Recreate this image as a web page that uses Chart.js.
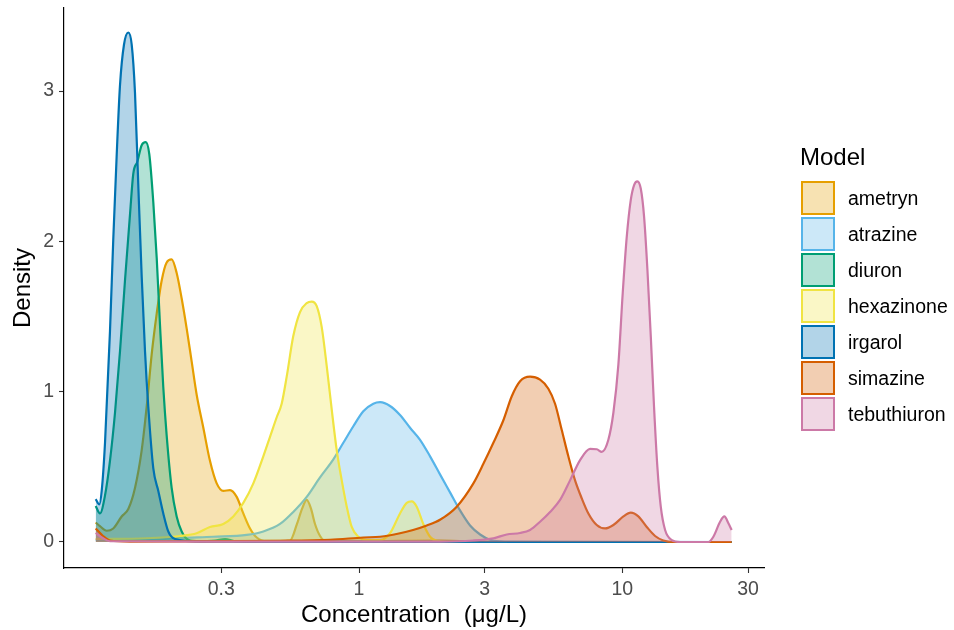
<!DOCTYPE html>
<html>
<head>
<meta charset="utf-8">
<script src="https://cdn.jsdelivr.net/npm/chart.js@4.4.1/dist/chart.umd.min.js"></script>
<style>
  body { margin: 0; background: #fff; font-family: "Liberation Sans", Arial, sans-serif; }
  #wrap { position: relative; width: 954px; height: 630px; }
  #chart { position: absolute; left: 0; top: 0; }
  .lg-title { position: absolute; left: 800px; top: 143px; font-size: 24px; line-height: 28px; color: #000; }
  .lg-box { position: absolute; left: 801px; width: 30px; height: 30px; border: 2px solid; }
  .lg-text { position: absolute; left: 848px; font-size: 19.5px; line-height: 24px; color: #000; }
</style>
</head>
<body>
<div id="wrap">
  <canvas id="chart" width="954" height="630"></canvas>
  <div id="legend"></div>
</div>
<script>
// Models and colours
const models = ["ametryn", "atrazine", "diuron", "hexazinone", "irgarol", "simazine", "tebuthiuron"];
const lineColors = ["#E69F00", "#56B4E9", "#009E73", "#F0E442", "#0072B2", "#D55E00", "#CC79A7"];
const fillColors = [
  "rgba(230, 159, 0, 0.3)",
  "rgba(86, 180, 233, 0.3)",
  "rgba(0, 158, 115, 0.3)",
  "rgba(240, 228, 66, 0.3)",
  "rgba(0, 114, 178, 0.3)",
  "rgba(213, 94, 0, 0.3)",
  "rgba(204, 121, 167, 0.3)",
];

// Axis ticks
const xTicks = [0.3, 1, 3, 10, 30];
const yTicks = [0, 1, 2, 3];

// Density curves (concentration in ug/L, density)
const ametrynX = [0.100, 0.1038, 0.1101, 0.1166, 0.1255, 0.1330, 0.1410, 0.1495, 0.1562, 0.1632, 0.1705, 0.1781, 0.1860, 0.1943, 0.2030, 0.2121, 0.2216, 0.2315, 0.2418, 0.2563, 0.2716, 0.2881, 0.3053, 0.3236, 0.3431, 0.3636, 0.3855, 0.4088, 0.4460, 0.5468, 0.5813, 0.6075, 0.6329, 0.6574, 0.6805, 0.7112, 0.7494, 1.009, 2.0, 3.431, 26.0];
const ametrynY = [0.13, 0.105, 0.075, 0.09, 0.17, 0.22, 0.36, 0.61, 0.90, 1.25, 1.52, 1.74, 1.86, 1.88, 1.79, 1.62, 1.42, 1.20, 0.98, 0.76, 0.54, 0.39, 0.34, 0.345, 0.30, 0.19, 0.09, 0.03, 0.007, 0.01, 0.12, 0.22, 0.28, 0.22, 0.12, 0.04, 0.005, 0.005, 0.01, 0, 0];

const atrazineX = [0.100, 0.1608, 0.2090, 0.2797, 0.3746, 0.4331, 0.5012, 0.5628, 0.6329, 0.7112, 0.7989, 0.8717, 0.9514, 1.038, 1.133, 1.202, 1.311, 1.431, 1.562, 1.705, 1.861, 2.030, 2.216, 2.419, 2.640, 2.882, 3.144, 3.585, 26.0];
const atrazineY = [0.015, 0.015, 0.027, 0.035, 0.047, 0.07, 0.12, 0.2, 0.3, 0.43, 0.55, 0.66, 0.77, 0.87, 0.92, 0.93, 0.905, 0.845, 0.76, 0.68, 0.57, 0.45, 0.33, 0.21, 0.11, 0.05, 0.015, 0.003, 0];

const diuronX = [0.100, 0.1038, 0.1085, 0.1133, 0.1184, 0.1237, 0.1292, 0.1350, 0.1389, 0.1439, 0.1495, 0.1549, 0.1598, 0.1655, 0.1705, 0.1754, 0.1806, 0.1860, 0.1943, 0.2030, 0.2121, 0.2247, 0.2489, 0.2838, 0.3098, 0.3381, 0.42, 26.0];
const diuronY = [0.24, 0.19, 0.31, 0.54, 0.86, 1.27, 1.74, 2.18, 2.45, 2.53, 2.64, 2.66, 2.58, 2.26, 1.89, 1.45, 1.03, 0.71, 0.36, 0.17, 0.07, 0.015, 0.005, 0.01, 0.02, 0.005, 0, 0];

const hexazinoneX = [0.100, 0.1562, 0.2090, 0.2418, 0.2716, 0.3053, 0.3331, 0.3636, 0.3969, 0.4331, 0.4592, 0.4869, 0.5085, 0.5313, 0.5628, 0.5969, 0.6329, 0.6612, 0.6908, 0.7217, 0.7540, 0.7877, 0.8229, 0.8597, 0.8982, 0.9382, 0.9938, 1.070, 1.202, 1.311, 1.431, 1.518, 1.586, 1.656, 1.754, 1.861, 1.973, 2.419, 26.0];
const hexazinoneY = [0.02, 0.025, 0.04, 0.058, 0.10, 0.12, 0.17, 0.26, 0.39, 0.57, 0.70, 0.83, 0.92, 1.10, 1.37, 1.53, 1.59, 1.60, 1.57, 1.43, 1.17, 0.88, 0.61, 0.41, 0.235, 0.10, 0.035, 0.013, 0.013, 0.058, 0.19, 0.26, 0.27, 0.235, 0.12, 0.035, 0.008, 0, 0];

const irgarolX = [0.100, 0.1032, 0.1054, 0.1085, 0.1133, 0.1166, 0.1202, 0.1237, 0.1281, 0.1330, 0.1370, 0.1410, 0.1451, 0.1495, 0.1539, 0.1584, 0.1655, 0.1729, 0.1806, 0.1887, 0.2001, 0.25, 26.0];
const irgarolY = [0.285, 0.25, 0.34, 0.66, 1.40, 2.01, 2.58, 3.04, 3.31, 3.39, 3.31, 2.99, 2.38, 1.77, 1.27, 0.90, 0.49, 0.34, 0.19, 0.07, 0.02, 0.003, 0];

const simazineX = [0.100, 0.1066, 0.1133, 0.1350, 0.5012, 0.7761, 1.038, 1.202, 1.431, 1.604, 1.808, 2.030, 2.350, 2.718, 2.966, 3.237, 3.533, 3.802, 4.088, 4.462, 4.869, 5.236, 5.551, 5.886, 6.235, 6.612, 7.013, 7.429, 7.994, 8.600, 9.244, 10.09, 10.76, 11.50, 12.38, 13.31, 14.31, 15.62, 26.0];
const simazineY = [0.09, 0.04, 0.01, 0.003, 0.008, 0.015, 0.03, 0.035, 0.058, 0.08, 0.11, 0.148, 0.235, 0.39, 0.52, 0.66, 0.81, 0.97, 1.07, 1.10, 1.08, 1.02, 0.92, 0.745, 0.57, 0.41, 0.29, 0.19, 0.113, 0.09, 0.113, 0.17, 0.195, 0.17, 0.10, 0.04, 0.01, 0, 0];

const tebuthiuronX = [0.100, 0.1066, 0.1133, 0.2489, 2.030, 2.710, 3.237, 3.639, 4.088, 4.462, 4.869, 5.314, 5.800, 6.329, 6.908, 7.540, 7.994, 8.352, 8.847, 9.244, 9.656, 10.03, 10.39, 10.76, 11.08, 11.40, 11.75, 12.09, 12.45, 12.82, 13.19, 13.58, 13.99, 14.53, 15.40, 16.56, 21.21, 22.16, 23.50, 24.40, 25.27, 26.0];
const tebuthiuronY = [0.06, 0.025, 0.005, 0.003, 0.003, 0.01, 0.025, 0.05, 0.06, 0.08, 0.135, 0.20, 0.28, 0.41, 0.545, 0.62, 0.617, 0.60, 0.68, 0.86, 1.18, 1.655, 2.03, 2.275, 2.375, 2.40, 2.35, 2.165, 1.81, 1.37, 0.90, 0.50, 0.235, 0.08, 0.013, 0, 0, 0.035, 0.135, 0.17, 0.125, 0.08];

const seriesX = [ametrynX, atrazineX, diuronX, hexazinoneX, irgarolX, simazineX, tebuthiuronX];
const seriesY = [ametrynY, atrazineY, diuronY, hexazinoneY, irgarolY, simazineY, tebuthiuronY];

const datasets = models.map((name, i) => ({
  label: name,
  data: seriesX[i].map((x, j) => ({ x: x, y: seriesY[i][j] })),
  borderColor: lineColors[i],
  backgroundColor: fillColors[i],
  borderWidth: 2.2,
  pointRadius: 0,
  fill: "origin",
  cubicInterpolationMode: "monotone",
  order: models.length - i,
}));

const ctx = document.getElementById("chart").getContext("2d");
const chart = new Chart(ctx, {
  type: "line",
  data: { datasets: datasets },
  options: {
    responsive: false,
    animation: false,
    layout: { padding: { top: 8, right: 190, left: 0, bottom: 0 } },
    plugins: {
      legend: { display: false },
      tooltip: { enabled: false },
    },
    scales: {
      x: {
        type: "logarithmic",
        min: 0.0758,
        max: 34.5,
        afterBuildTicks: function (scale) {
          scale.ticks = xTicks.map((v) => ({ value: v }));
        },
        afterFit: function (scale) {
          scale.height = 62;
          scale.paddingLeft = 0;
          scale.paddingRight = 0;
        },
        ticks: {
          color: "#4d4d4d",
          font: { family: "Liberation Sans", size: 19.5 },
          padding: 5,
          maxRotation: 0,
          autoSkip: false,
          callback: function (value) {
            return String(value);
          },
        },
        grid: {
          display: true,
          drawOnChartArea: false,
          drawTicks: true,
          tickLength: 5,
          tickColor: "#333333",
          tickWidth: 1.1,
        },
        border: { display: true, color: "#000", width: 1.2 },
        title: {
          display: true,
          text: "Concentration  (\u03bcg/L)",
          color: "#000",
          font: { family: "Liberation Sans", size: 24 },
          padding: { top: 0, bottom: 0 },
        },
      },
      y: {
        type: "linear",
        min: -0.173,
        max: 3.553,
        afterBuildTicks: function (scale) {
          scale.ticks = yTicks.map((v) => ({ value: v }));
        },
        afterFit: function (scale) {
          scale.width = 64;
          scale.paddingTop = 0;
          scale.paddingBottom = 0;
        },
        ticks: {
          color: "#4d4d4d",
          font: { family: "Liberation Sans", size: 19.5 },
          padding: 5,
          callback: function (value) {
            return String(value);
          },
        },
        grid: {
          display: true,
          drawOnChartArea: false,
          drawTicks: true,
          tickLength: 5,
          tickColor: "#333333",
          tickWidth: 1.1,
        },
        border: { display: true, color: "#000", width: 1.2 },
        title: {
          display: true,
          text: "Density",
          color: "#000",
          font: { family: "Liberation Sans", size: 24 },
          padding: { top: 9, bottom: 0 },
        },
      },
    },
  },
});

// Legend (ggplot style, on the right)
const legend = document.getElementById("legend");
const title = document.createElement("div");
title.className = "lg-title";
title.textContent = "Model";
legend.appendChild(title);
models.forEach((name, i) => {
  const box = document.createElement("div");
  box.className = "lg-box";
  box.style.top = 181 + 36 * i + "px";
  box.style.borderColor = lineColors[i];
  box.style.background = fillColors[i];
  legend.appendChild(box);
  const txt = document.createElement("div");
  txt.className = "lg-text";
  txt.style.top = 186 + 36 * i + "px";
  txt.textContent = name;
  legend.appendChild(txt);
});
</script>
</body>
</html>
